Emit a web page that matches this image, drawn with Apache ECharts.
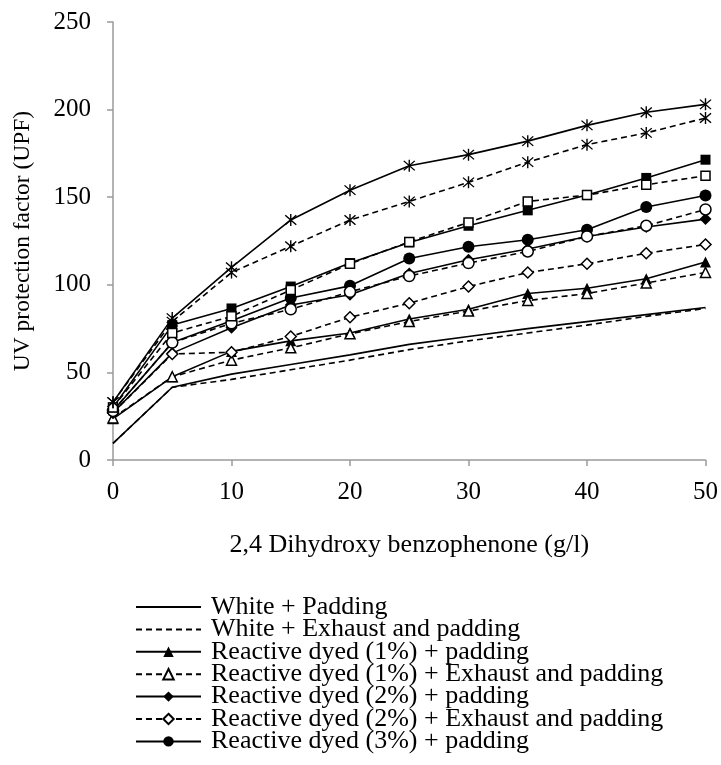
<!DOCTYPE html>
<html lang="en">
<head>
    <meta charset="UTF-8">
    <title>UPF vs 2,4 Dihydroxy benzophenone</title>
    <style>
        html, body { margin: 0; padding: 0; background: #fff; }
        #main { width: 721px; height: 765px; }
    </style>
</head>
<body>
    <div id="main"></div>
    <script src="https://cdn.jsdelivr.net/npm/echarts@6/dist/echarts.min.js"></script>
    <script type="text/javascript">
        // concentration of 2,4 dihydroxy benzophenone (g/l)
        var conc = [0, 5, 10, 15, 20, 25, 30, 35, 40, 45, 50];

        var whitePad = [9.5, 41.5, 49, 54.5, 60, 66, 70.5, 75, 79, 83, 87];
        var whiteExh = [9.5, 41.5, 46, 51.5, 57, 63, 68, 72.5, 77, 82, 86.5];
        var r1Pad = [23.5, 47.5, 62, 68, 72.5, 80.5, 86, 95, 98, 103.5, 113];
        var r1Exh = [24, 47.5, 57, 64, 72, 79, 85, 91, 95, 101, 107];
        var r2Pad = [27, 61, 75.5, 88.5, 94.3, 106.5, 114.3, 120.4, 127.6, 133, 137.5];
        var r2Exh = [27, 60.5, 61.5, 70.5, 81.5, 89.5, 99, 107, 112, 118, 123];
        var r3Pad = [28, 67, 79.5, 92.5, 99.4, 115, 121.7, 125.7, 131.4, 144.4, 151];
        var r3Exh = [28, 67, 78, 86, 96, 105, 112.4, 119, 127.6, 133.7, 143];
        var sqPad = [30, 77, 86.5, 99, 112.4, 124.2, 133.7, 142.5, 151.2, 161, 171.4];
        var sqExh = [30, 72.5, 82, 97, 112, 124.5, 135.6, 147.6, 151.2, 157.1, 162.3];
        var stPad = [33, 81, 110, 137, 154, 168, 174.3, 182, 191, 198.5, 203];
        var stExh = [33, 79, 107, 122, 137, 147.6, 158.5, 170, 180, 186.7, 195.2];

        var yTicks = [0, 50, 100, 150, 200, 250];

        var names = [
            'White + Padding',
            'White + Exhaust and padding',
            'Reactive dyed (1%) + padding',
            'Reactive dyed (1%) + Exhaust and padding',
            'Reactive dyed (2%) + padding',
            'Reactive dyed (2%) + Exhaust and padding',
            'Reactive dyed (3%) + padding',
            'Reactive dyed (3%) + Exhaust and padding',
            'Reactive dyed (4%) + padding',
            'Reactive dyed (4%) + Exhaust and padding',
            'Reactive dyed (5%) + padding',
            'Reactive dyed (5%) + Exhaust and padding'
        ];

        var FONT = '"Liberation Serif", "Times New Roman", serif';
        var STAR = 'path://M9,0L11,0L11,20L9,20Z M1.4,2.8L2.8,1.4L18.6,17.2L17.2,18.6Z M17.2,1.4L18.6,2.8L2.8,18.6L1.4,17.2Z';

        function pairs(arr) {
            var out = [];
            for (var i = 0; i < arr.length; i++) {
                out.push([conc[i], arr[i]]);
            }
            return out;
        }

        // one line series; symbol 'none' for the white fabrics
        function line(name, arr, dashed, symbol, open, size) {
            return {
                name: name,
                type: 'line',
                data: pairs(arr),
                symbol: symbol || 'none',
                showSymbol: !!symbol,
                symbolSize: size || 11,
                lineStyle: {
                    color: '#000',
                    width: 1.6,
                    type: dashed ? [6, 4] : 'solid'
                },
                itemStyle: {
                    color: open ? '#fff' : '#000',
                    borderColor: '#000',
                    borderWidth: open ? 1.5 : 0
                },
                emphasis: { disabled: true },
                animation: false
            };
        }

        // only the first seven entries fit on the page
        var legendData = [];
        for (var i = 0; i < 7; i++) {
            if (i < 2) {
                legendData.push({ name: names[i], itemStyle: { opacity: 0 } });
            } else {
                legendData.push({ name: names[i] });
            }
        }

        var myChart = echarts.init(document.getElementById('main'));

        var option = {
            backgroundColor: '#fff',
            grid: {
                left: 113,
                right: 15,
                top: 22,
                bottom: 305
            },
            legend: {
                data: legendData,
                orient: 'vertical',
                left: 135,
                top: 594,
                height: 300,
                padding: 0,
                itemWidth: 65,
                itemHeight: 13,
                itemGap: -3.6,
                selectedMode: false,
                textStyle: {
                    fontFamily: FONT,
                    fontSize: 26,
                    color: '#000',
                    padding: [0, 0, 0, 5]
                }
            },
            xAxis: {
                type: 'value',
                min: 0,
                max: 50,
                interval: 10,
                name: '2,4 Dihydroxy benzophenone (g/l)',
                nameLocation: 'middle',
                nameGap: 72,
                nameTextStyle: { fontFamily: FONT, fontSize: 26, color: '#000' },
                axisLine: { lineStyle: { color: '#9a9a9a', width: 1.5 } },
                axisTick: { show: true, inside: false, length: 6, lineStyle: { color: '#9a9a9a', width: 1.5 } },
                axisLabel: { fontFamily: FONT, fontSize: 25, color: '#000', margin: 20 },
                splitLine: { show: false }
            },
            yAxis: {
                type: 'value',
                min: yTicks[0],
                max: yTicks[yTicks.length - 1],
                interval: 50,
                name: 'UV protection factor (UPF)',
                nameLocation: 'middle',
                nameRotate: 90,
                nameGap: 78,
                nameTextStyle: { fontFamily: FONT, fontSize: 23.5, color: '#000' },
                axisLine: { show: true, lineStyle: { color: '#9a9a9a', width: 1.5 } },
                axisTick: { show: true, inside: false, length: 6, lineStyle: { color: '#9a9a9a', width: 1.5 } },
                axisLabel: { fontFamily: FONT, fontSize: 25, color: '#000', margin: 22 },
                splitLine: { show: false }
            },
            series: [
                line(names[0], whitePad, false),
                line(names[1], whiteExh, true),
                line(names[2], r1Pad, false, 'triangle', false, 11),
                line(names[3], r1Exh, true, 'triangle', true, 10),
                line(names[4], r2Pad, false, 'diamond', false, 12),
                line(names[5], r2Exh, true, 'diamond', true, 11),
                line(names[6], r3Pad, false, 'circle', false, 12),
                line(names[7], r3Exh, true, 'circle', true, 11),
                line(names[8], sqPad, false, 'rect', false, 10),
                line(names[9], sqExh, true, 'rect', true, 9),
                line(names[10], stPad, false, STAR, false, 12),
                line(names[11], stExh, true, STAR, false, 12)
            ]
        };

        myChart.setOption(option);
    </script>
</body>
</html>
